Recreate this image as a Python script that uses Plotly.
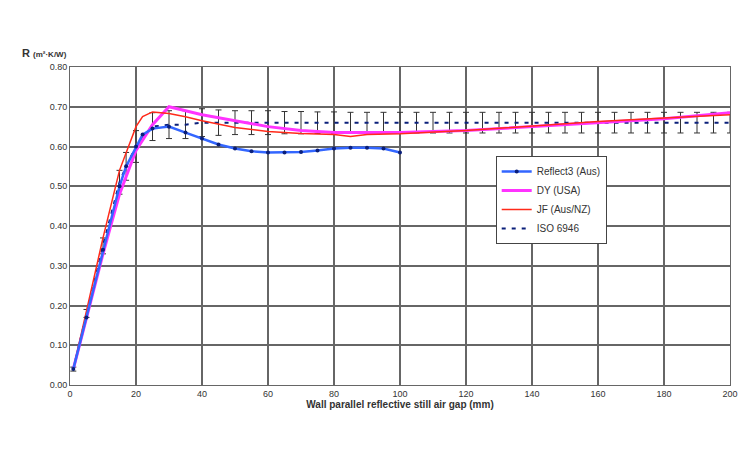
import plotly.graph_objects as go

# Reflect3 (Aus)
gap_r3 = [1, 5, 10, 15, 17, 20, 22, 25, 30, 35, 40, 45, 50, 55, 60, 65, 70, 75, 80, 85, 90, 95, 100]
r_r3 = [0.04, 0.17, 0.34, 0.50, 0.55, 0.60, 0.63, 0.645, 0.65, 0.635, 0.62, 0.605, 0.595, 0.588, 0.585, 0.585, 0.586, 0.59, 0.595, 0.597, 0.597, 0.595, 0.585]

# DY (USA)
gap_dy = [1, 5, 10, 15, 20, 25, 30, 40, 50, 60, 70, 80, 90, 100, 120, 140, 160, 180, 200]
r_dy = [0.04, 0.17, 0.33, 0.48, 0.59, 0.655, 0.70, 0.68, 0.665, 0.65, 0.64, 0.635, 0.635, 0.635, 0.64, 0.65, 0.66, 0.67, 0.685]

# JF (Aus/NZ)
gap_jf = [1, 5, 10, 15, 20, 22, 25, 30, 35, 40, 50, 60, 70, 80, 85, 90, 100, 120, 140, 160, 180, 200]
r_jf = [0.04, 0.19, 0.37, 0.54, 0.65, 0.675, 0.687, 0.683, 0.675, 0.665, 0.648, 0.638, 0.633, 0.63, 0.625, 0.63, 0.632, 0.64, 0.652, 0.663, 0.672, 0.68]

# ISO 6946 with error bars
gap_iso = [1, 5, 10, 15, 17, 20, 25, 30, 35, 40, 45, 50, 55, 60, 65, 70, 75, 80, 85, 90, 95, 100,
           105, 110, 115, 120, 125, 130, 135, 140, 145, 150, 155, 160, 165, 170, 175, 180, 185, 190, 195, 200]
r_iso = [0.04, 0.18, 0.35, 0.51, 0.55, 0.60, 0.65, 0.655, 0.655, 0.66] + [0.66] * 32
err_iso = [0.005, 0.01, 0.02, 0.03, 0.035, 0.04, 0.035, 0.035, 0.035, 0.035, 0.032, 0.03, 0.03, 0.03,
           0.028, 0.028, 0.027, 0.027, 0.026, 0.026, 0.026, 0.026] + [0.026] * 20

fig = go.Figure()
fig.add_trace(go.Scatter(x=gap_iso, y=r_iso, name="ISO 6946", mode="lines", legendrank=4,
                         line=dict(color="#0a1f7a", width=2, dash="4px,6px"),
                         error_y=dict(type="data", array=err_iso, color="#333333", thickness=1, width=3)))
fig.add_trace(go.Scatter(x=gap_dy, y=r_dy, name="DY (USA)", mode="lines", legendrank=2,
                         line=dict(color="#ff33ff", width=3)))
fig.add_trace(go.Scatter(x=gap_jf, y=r_jf, name="JF (Aus/NZ)", mode="lines", legendrank=3,
                         line=dict(color="#ff2a1a", width=1.5)))
fig.add_trace(go.Scatter(x=gap_r3, y=r_r3, name="Reflect3 (Aus)", mode="lines+markers", legendrank=1,
                         line=dict(color="#3366ff", width=2.5), marker=dict(color="#0a1f7a", size=4)))

fig.update_layout(
    width=750, height=449, plot_bgcolor="white", paper_bgcolor="white",
    margin=dict(l=62, r=28, t=59, b=72),
    font=dict(family="Liberation Sans, Arial", size=10, color="#333"),
    legend=dict(x=0.645, y=0.72, xanchor="left", yanchor="top", bordercolor="#444", borderwidth=1,
                bgcolor="white", font=dict(size=10), tracegroupgap=0),
    xaxis=dict(range=[0, 200], dtick=20, showgrid=True, gridcolor="#666", gridwidth=1.5,
               showline=True, linecolor="#666", mirror=True, ticks="", tickfont=dict(size=9),
               title=dict(text="<b>Wall parallel reflective still air gap (mm)</b>", font=dict(size=10), standoff=2)),
    yaxis=dict(range=[0, 0.8], dtick=0.1, tickformat=".2f", showgrid=True, gridcolor="#666", gridwidth=1.5,
               showline=True, linecolor="#666", mirror=True, ticks="", tickfont=dict(size=9)),
    annotations=[dict(text="<b>R</b> <b style='font-size:8px'>(m²·K/W)</b>", x=0, y=1.02, xref="paper", yref="paper",
                      xanchor="left", yanchor="bottom", xshift=-50, showarrow=False, font=dict(size=11))],
)
fig.write_html("out.html")
